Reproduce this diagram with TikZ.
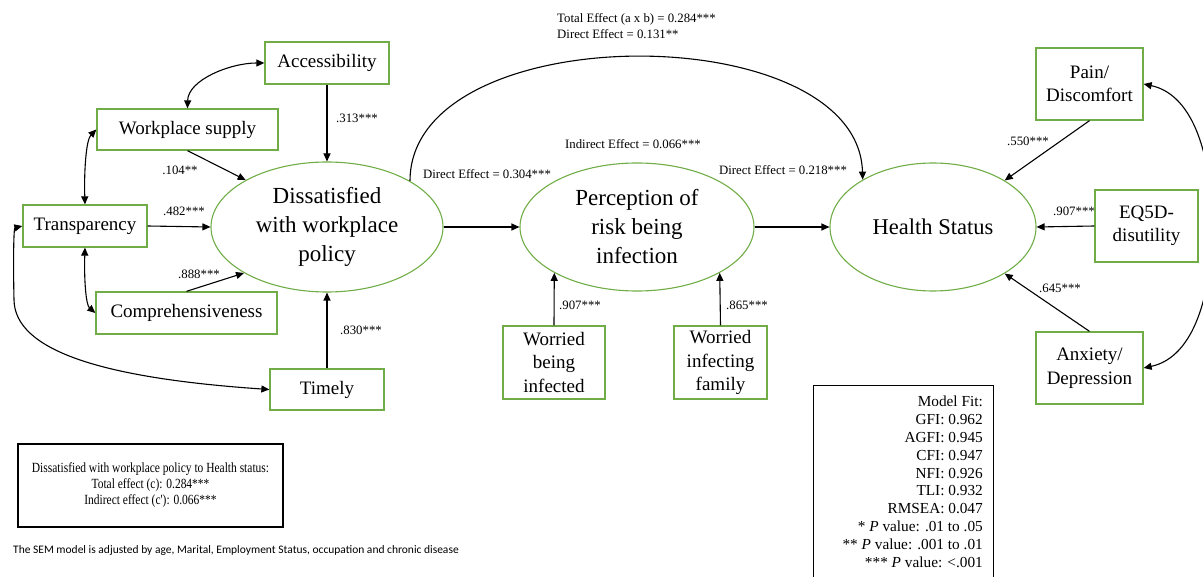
\documentclass[tikz,border=0pt]{standalone}
\usepackage{fontspec}
\setmainfont{Liberation Serif}
\newfontfamily\calib{Carlito}
\newfontfamily\condserif[FakeStretch=0.82]{Liberation Serif}
\usetikzlibrary{arrows.meta,shapes.geometric}
\definecolor{sgreen}{RGB}{112,173,71}
\begin{document}
\begin{tikzpicture}[x=1pt,y=-1pt,
  gbox/.style={draw=sgreen,line width=1.3pt,inner sep=0pt,align=center,font=\fontsize{19}{23.5}\selectfont},
  lat/.style={draw=sgreen,line width=1.1pt,ellipse,inner sep=0pt,align=center,font=\fontsize{23}{29}\selectfont},
  lab/.style={font=\fontsize{12.8}{15}\selectfont,inner sep=0pt},
  arr/.style={-{Triangle[length=8pt,width=7pt]},line width=1.1pt},
  biarr/.style={{Triangle[length=8pt,width=7pt]}-{Triangle[length=8pt,width=7pt]},line width=1.1pt},
  frame/.style={draw=black,line width=1.2pt,inner sep=0pt},
]
\useasboundingbox (0,0) rectangle (1203,577);

% observed boxes
\node[gbox,minimum width=124pt,minimum height=42pt] (acc) at (327,63) {\raisebox{-2pt}{Accessibility}};
\node[gbox,minimum width=181pt,minimum height=41pt] (ws) at (187.5,129.5) {\raisebox{-2pt}{Workplace supply}};
\node[gbox,minimum width=124pt,minimum height=42pt] (tr) at (85,226) {\raisebox{-2pt}{Transparency}};
\node[gbox,minimum width=181pt,minimum height=42pt] (comp) at (186.5,313) {\raisebox{-2pt}{Comprehensiveness}};
\node[gbox,minimum width=114pt,minimum height=41pt] (tim) at (327,389.5) {\raisebox{-2pt}{Timely}};
\node[gbox,minimum width=102pt,minimum height=73pt] (wbi) at (554,362.5) {Worried\\being\\infected};
\node[gbox,minimum width=93pt,minimum height=73pt] (wif) at (720.5,362.5) {Worried\\infecting\\family};
\node[gbox,minimum width=107pt,minimum height=72pt] (pain) at (1089.5,84) {Pain/\\Discomfort};
\node[gbox,minimum width=103pt,minimum height=72pt] (eq) at (1146.5,226) {EQ5D-\\disutility};
\node[gbox,minimum width=107pt,minimum height=72pt] (anx) at (1089.5,368) {Anxiety/\\Depression};

% latent ellipses
\node[lat,minimum width=232pt,minimum height=130pt] (e1) at (327,227) {\raisebox{-3pt}{\parbox{150pt}{\centering Dissatisfied\\with workplace\\policy}}};
\node[lat,minimum width=234pt,minimum height=128pt] (e2) at (637,227) {\raisebox{-2pt}{\parbox{150pt}{\centering Perception of\\risk being\\infection}}};
\node[lat,minimum width=206pt,minimum height=128pt,font=\fontsize{22.5}{28}\selectfont] (e3) at (933,227) {Health Status};

% paths
\draw[arr] (acc.south) -- (e1.north);
\draw[arr] (ws.south) -- (e1.150);
\draw[arr] (tr.east) -- (e1.west);
\draw[arr] (comp.north) -- (e1.209);
\draw[arr] (tim.north) -- (e1.south);
\draw[arr] (e1.east) -- (e2.west);
\draw[arr] (e2.east) -- (e3.west);
\draw[arr] (wbi.north) -- (e2.209);
\draw[arr] (wif.north) -- (e2.331);
\draw[arr] (pain.south) -- (e3.33);
\draw[arr] (eq.west) -- (e3.east);
\draw[arr] (anx.north) -- (e3.327);
\draw[arr] (e1.29.5) .. controls (410,16) and (858,16) .. (e3.146);

% covariances
\draw[biarr] (acc.west) .. controls (230,63) and (188,80) .. (ws.north);
\draw[biarr] (tr.north) .. controls (84,172) and (86,140) .. (ws.west);
\draw[biarr] (tr.south) .. controls (84,280) and (86,305) .. (comp.west);
\coordinate (tl) at (14,300);
\draw[biarr] (tim.west) .. controls (100,378) and (15,350) .. (tl) .. controls (13,252) and (14,228) .. (tr.west);
\coordinate (pr) at (1212,226);
\draw[biarr] (pain.east) .. controls (1195,95) and (1212,160) .. (pr) .. controls (1212,292) and (1195,357) .. (anx.east);

% labels
\node[lab] (l1) at (357,118) {.313***};
\node[lab] (l2) at (180,170) {.104**};
\node[lab] (l3) at (184,211) {.482***};
\node[lab] (l4) at (199,274) {.888***};
\node[lab] (l5) at (361,330) {.830***};
\node[lab] (l6) at (633,144) {Indirect Effect = 0.066***};
\node[lab] (l7) at (487,174) {Direct Effect = 0.304***};
\node[lab] (l8) at (783,170) {Direct Effect = 0.218***};
\node[lab,anchor=west,align=left,font=\fontsize{12.8}{16}\selectfont] (l9) at (557,26) {Total Effect (a x b) = 0.284***\\Direct Effect = 0.131**};
\node[lab] (l10) at (1028,141) {.550***};
\node[lab] (l11) at (1074,211) {.907***};
\node[lab] (l12) at (1060,288) {.645***};
\node[lab] (l13) at (580,305) {.907***};
\node[lab] (l14) at (747,305) {.865***};

% info boxes
\node[frame,minimum width=265pt,minimum height=83pt,align=center,font=\condserif\fontsize{14}{16}\selectfont] (eff) at (150.5,485.5) {Dissatisfied with workplace policy to Health status:\\Total effect (c): 0.284***\\Indirect effect (c'): 0.066***};
\node[frame,anchor=north west,minimum width=180pt,minimum height=205pt] (fit) at (813,385) {};
\node[anchor=north east,align=right,inner sep=0pt,font=\fontsize{15.3}{17.8}\selectfont] (fittxt) at (983,396) {Model Fit:\\GFI: 0.962\\AGFI: 0.945\\CFI: 0.947\\NFI: 0.926\\TLI: 0.932\\RMSEA: 0.047\\* \textit{P} value: .01 to .05\\** \textit{P} value: .001 to .01\\*** \textit{P} value: <.001};
\node[anchor=west,inner sep=0pt,font=\calib\fontsize{11.5}{14}\selectfont] (note) at (13,550) {The SEM model is adjusted by age, Marital, Employment Status, occupation and chronic disease};
\end{tikzpicture}
\end{document}
